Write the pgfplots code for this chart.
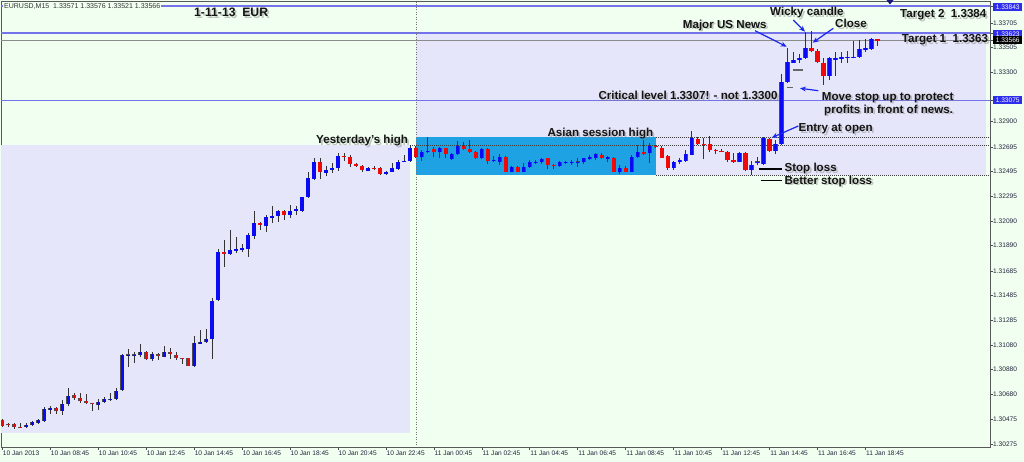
\documentclass[border=0pt]{standalone}
\usepackage{pgfplots}
\pgfplotsset{compat=1.18}
\usepackage{pgfplotstable}
\usepackage{fontspec}
\setmainfont{Liberation Sans}
\usetikzlibrary{arrows.meta}
\definecolor{hd}{RGB}{240,255,240}
\definecolor{lav}{RGB}{230,230,250}
\definecolor{asia}{RGB}{30,162,228}
\definecolor{lvl}{RGB}{115,115,235}
\definecolor{bull}{RGB}{10,10,245}
\definecolor{bear}{RGB}{240,10,10}
\definecolor{arr}{RGB}{25,40,235}
\definecolor{pbox}{RGB}{45,45,235}
\definecolor{ticktxt}{RGB}{35,35,60}
\definecolor{navytri}{RGB}{20,20,130}
\newcommand{\tickfont}{\fontsize{6.6}{7}\selectfont}
\newcommand{\annfont}{\fontsize{11.6}{13}\selectfont\bfseries}
\newcommand{\ann}[3]{%
 \node[anchor=west,inner sep=0pt,text height=8.3pt,text depth=0pt,font=\annfont,text=black!50,opacity=0.45,xshift=1.8pt,yshift=-1.8pt] at (#1pt,#2pt) {#3};%
 \node[anchor=west,inner sep=0pt,text height=8.3pt,text depth=0pt,font=\annfont,text=black!92] at (#1pt,#2pt) {#3};}
\pgfplotsset{nomk/.style={only marks, mark=none, mark size=0pt, mark options={draw=none, fill=none}}}
\pgfplotstableread{
i o h l c d
0 1.30469 1.30477 1.30412 1.30423 0
1 1.30436 1.30442 1.30410 1.30432 0
2 1.30434 1.30450 1.30401 1.30410 0
3 1.30410 1.30442 1.30401 1.30408 0
4 1.30410 1.30442 1.30408 1.30428 1
5 1.30426 1.30463 1.30420 1.30455 1
6 1.30450 1.30475 1.30436 1.30469 1
7 1.30461 1.30577 1.30455 1.30559 1
8 1.30562 1.30583 1.30518 1.30564 1
9 1.30564 1.30572 1.30518 1.30545 0
10 1.30545 1.30632 1.30512 1.30597 1
11 1.30597 1.30727 1.30583 1.30665 1
12 1.30673 1.30691 1.30632 1.30651 0
13 1.30651 1.30691 1.30605 1.30626 0
14 1.30626 1.30681 1.30599 1.30610 0
15 1.30610 1.30612 1.30545 1.30608 0
16 1.30594 1.30638 1.30550 1.30621 1
17 1.30618 1.30654 1.30605 1.30640 1
18 1.30638 1.30691 1.30626 1.30640 1
19 1.30638 1.30727 1.30632 1.30708 1
20 1.30713 1.31004 1.30708 1.30999 1
21 1.30999 1.31045 1.30903 1.31001 1
22 1.31001 1.31026 1.30931 1.31004 1
23 1.30999 1.31088 1.30985 1.31021 1
24 1.31023 1.31034 1.30958 1.30969 0
25 1.30969 1.31026 1.30947 1.31004 1
26 1.31001 1.31013 1.30958 1.30999 0
27 1.30985 1.31072 1.30980 1.31026 1
28 1.31023 1.31053 1.30969 1.31007 0
29 1.31004 1.31026 1.30958 1.30977 0
30 1.30974 1.30975 1.30925 1.30972 0
31 1.30972 1.30975 1.30909 1.30912 0
32 1.30909 1.31154 1.30903 1.31094 1
33 1.31094 1.31202 1.31092 1.31107 1
34 1.31105 1.31208 1.31094 1.31127 1
35 1.31127 1.31466 1.30964 1.31439 1
36 1.31445 1.31863 1.31440 1.31836 1
37 1.31836 1.31936 1.31714 1.31824 0
38 1.31824 1.32017 1.31814 1.31852 1
39 1.31852 1.31958 1.31828 1.31863 1
40 1.31863 1.31901 1.31838 1.31868 1
41 1.31863 1.31991 1.31795 1.31977 1
42 1.31971 1.32172 1.31942 1.32077 1
43 1.32077 1.32085 1.32017 1.32056 0
44 1.32053 1.32140 1.32004 1.32123 1
45 1.32118 1.32213 1.32072 1.32132 1
46 1.32132 1.32180 1.32083 1.32175 1
47 1.32175 1.32186 1.32099 1.32137 0
48 1.32137 1.32219 1.32113 1.32175 1
49 1.32172 1.32213 1.32137 1.32189 1
50 1.32172 1.32289 1.32167 1.32284 1
51 1.32284 1.32488 1.32280 1.32439 1
52 1.32433 1.32602 1.32425 1.32574 1
53 1.32574 1.32602 1.32436 1.32488 0
54 1.32480 1.32539 1.32458 1.32506 1
55 1.32504 1.32561 1.32480 1.32525 1
56 1.32523 1.32643 1.32501 1.32621 1
57 1.32621 1.32643 1.32582 1.32619 0
58 1.32610 1.32629 1.32533 1.32553 0
59 1.32553 1.32561 1.32529 1.32539 0
60 1.32537 1.32547 1.32493 1.32509 0
61 1.32501 1.32533 1.32501 1.32525 1
62 1.32525 1.32539 1.32506 1.32520 0
63 1.32525 1.32533 1.32466 1.32471 0
64 1.32474 1.32498 1.32466 1.32493 1
65 1.32490 1.32561 1.32488 1.32525 1
66 1.32515 1.32588 1.32506 1.32574 1
67 1.32574 1.32629 1.32572 1.32580 1
68 1.32580 1.32710 1.32569 1.32683 1
69 1.32688 1.32705 1.32608 1.32615 0
70 1.32610 1.32669 1.32582 1.32656 1
71 1.32656 1.32778 1.32643 1.32661 1
72 1.32678 1.32696 1.32615 1.32656 0
73 1.32656 1.32696 1.32602 1.32688 1
74 1.32683 1.32688 1.32607 1.32637 0
75 1.32596 1.32643 1.32588 1.32634 1
76 1.32634 1.32743 1.32629 1.32705 1
77 1.32705 1.32737 1.32669 1.32678 0
78 1.32678 1.32751 1.32643 1.32656 0
79 1.32656 1.32661 1.32596 1.32602 0
80 1.32602 1.32683 1.32596 1.32678 1
81 1.32678 1.32683 1.32553 1.32580 0
82 1.32580 1.32623 1.32569 1.32588 1
83 1.32574 1.32634 1.32547 1.32610 1
84 1.32615 1.32623 1.32488 1.32493 0
85 1.32493 1.32542 1.32488 1.32533 1
86 1.32533 1.32542 1.32488 1.32493 0
87 1.32493 1.32569 1.32488 1.32533 1
88 1.32533 1.32588 1.32520 1.32569 1
89 1.32569 1.32588 1.32553 1.32571 1
90 1.32569 1.32607 1.32553 1.32596 1
91 1.32602 1.32607 1.32515 1.32547 0
92 1.32547 1.32553 1.32515 1.32545 0
93 1.32542 1.32580 1.32533 1.32569 1
94 1.32569 1.32580 1.32553 1.32571 1
95 1.32571 1.32588 1.32547 1.32574 1
96 1.32574 1.32602 1.32533 1.32576 1
97 1.32574 1.32607 1.32553 1.32602 1
98 1.32602 1.32629 1.32588 1.32615 1
99 1.32607 1.32643 1.32588 1.32634 1
100 1.32626 1.32643 1.32596 1.32604 0
101 1.32604 1.32623 1.32574 1.32615 1
102 1.32607 1.32615 1.32488 1.32493 0
103 1.32488 1.32547 1.32471 1.32525 1
104 1.32525 1.32542 1.32488 1.32493 0
105 1.32493 1.32629 1.32488 1.32615 1
106 1.32610 1.32710 1.32602 1.32651 1
107 1.32651 1.32751 1.32629 1.32643 0
108 1.32643 1.32724 1.32561 1.32705 1
109 1.32705 1.32710 1.32688 1.32703 0
110 1.32688 1.32705 1.32602 1.32607 0
111 1.32623 1.32629 1.32506 1.32520 0
112 1.32520 1.32580 1.32506 1.32569 1
113 1.32569 1.32602 1.32561 1.32588 1
114 1.32580 1.32669 1.32574 1.32634 1
115 1.32634 1.32824 1.32629 1.32765 1
116 1.32759 1.32778 1.32710 1.32716 0
117 1.32716 1.32765 1.32596 1.32714 0
118 1.32716 1.32786 1.32656 1.32669 0
119 1.32669 1.32678 1.32634 1.32667 0
120 1.32663 1.32678 1.32651 1.32661 0
121 1.32656 1.32661 1.32574 1.32588 0
122 1.32588 1.32643 1.32561 1.32574 0
123 1.32574 1.32651 1.32569 1.32643 1
124 1.32643 1.32651 1.32498 1.32506 0
125 1.32506 1.32580 1.32466 1.32547 1
126 1.32574 1.32615 1.32547 1.32576 1
127 1.32553 1.32778 1.32547 1.32767 1
128 1.32759 1.32770 1.32653 1.32665 0
129 1.32665 1.32751 1.32637 1.32724 1
130 1.32716 1.33286 1.32710 1.33221 1
131 1.33221 1.33503 1.33216 1.33384 1
132 1.33384 1.33471 1.33376 1.33403 1
133 1.33400 1.33449 1.33376 1.33417 1
134 1.33417 1.33634 1.33412 1.33503 1
135 1.33503 1.33639 1.33470 1.33476 0
136 1.33476 1.33493 1.33379 1.33384 0
137 1.33376 1.33417 1.33199 1.33275 0
138 1.33275 1.33430 1.33240 1.33417 1
139 1.33411 1.33471 1.33275 1.33422 1
140 1.33422 1.33466 1.33376 1.33425 1
141 1.33425 1.33476 1.33376 1.33427 1
142 1.33427 1.33558 1.33422 1.33430 1
143 1.33430 1.33566 1.33417 1.33493 1
144 1.33484 1.33574 1.33471 1.33498 1
145 1.33493 1.33585 1.33484 1.33574 1
146 1.33571 1.33576 1.33521 1.33566 0
}\candles
\begin{document}
\begin{tikzpicture}
\path[use as bounding box, fill=hd] (0,0) rectangle (1024pt,462pt);
\begin{axis}[at={(1pt,15pt)}, anchor=south west, scale only axis,
 width=989pt, height=446pt,
 xmin=-0.2167, xmax=164.78, ymin=1.30249, ymax=1.33884,
 axis background/.style={fill=hd},
 axis line style={draw=black!65, line width=0.8pt},
 tick align=outside, major tick length=3pt,
 tick style={black!70, line width=0.6pt},
 xtick pos=bottom, ytick pos=right,
 xtick={0,8,...,144},
 xticklabels={10 Jan 2013,10 Jan 08:45,10 Jan 10:45,10 Jan 12:45,10 Jan 14:45,10 Jan 16:45,10 Jan 18:45,10 Jan 20:45,10 Jan 22:45,11 Jan 00:45,11 Jan 02:45,11 Jan 04:45,11 Jan 06:45,11 Jan 08:45,11 Jan 10:45,11 Jan 12:45,11 Jan 14:45,11 Jan 16:45,11 Jan 18:45},
 xticklabel style={anchor=north west, inner sep=0pt, font=\tickfont, text=ticktxt, xshift=0.5pt, yshift=-1pt},
 ytick={1.33843,1.33705,1.33623,1.33566,1.33505,1.33300,1.33075,1.32900,1.32695,1.32495,1.32295,1.32090,1.31890,1.31685,1.31485,1.31285,1.31080,1.30880,1.30680,1.30475,1.30275},
 yticklabels={{},1.33705,{},{},1.33505,1.33300,{},1.32900,1.32695,1.32495,1.32295,1.32090,1.31890,1.31685,1.31485,1.31285,1.31080,1.30880,1.30680,1.30475,1.30275},
 yticklabel style={anchor=west, inner sep=0pt, font=\tickfont, text=ticktxt},
]
% range boxes
\addplot[fill=lav, draw=none] coordinates {(-0.2167,1.30363) (68,1.30363) (68,1.32714) (-0.2167,1.32714)} -- cycle;
\addplot[fill=lav, draw=none] coordinates {(69.07,1.32466) (164.1,1.32466) (164.1,1.33623) (69.07,1.33623)} -- cycle;
\addplot[fill=asia, draw=none] coordinates {(69.07,1.32466) (109.07,1.32466) (109.07,1.32775) (69.07,1.32775)} -- cycle;
% level lines
\addplot[lvl, line width=1.1pt] coordinates {(-1,1.33843) (170,1.33843)};
\addplot[lvl, line width=1.1pt] coordinates {(-1,1.33623) (170,1.33623)};
\addplot[lvl, line width=1.1pt] coordinates {(-1,1.33075) (170,1.33075)};
\addplot[black!45, line width=1pt] coordinates {(-1,1.33566) (170,1.33566)};
\addplot[black!75, line width=0.8pt, dash pattern=on 1pt off 1pt] coordinates {(109.0,1.32775) (170,1.32775)};
\addplot[black!75, line width=0.8pt, dash pattern=on 1pt off 1pt] coordinates {(68,1.32705) (170,1.32705)};
\addplot[black!75, line width=0.8pt, dash pattern=on 1pt off 1pt] coordinates {(109.0,1.32466) (170,1.32466)};
\addplot[black!55, line width=0.8pt, dash pattern=on 1pt off 1.5pt] coordinates {(69.07,1.30) (69.07,1.34)};
% wicks
\addplot[nomk, error bars/.cd, y dir=both, y explicit, error mark=none,
 error bar style={draw=black!80, line width=0.8pt}]
 table[x=i, y expr={(\thisrow{h}+\thisrow{l})/2}, y error expr={(\thisrow{h}-\thisrow{l})/2}] {\candles};
% body outline (thin dark edge, and doji dash)
\addplot[nomk, error bars/.cd, y dir=both, y explicit, error mark=none,
 error bar style={draw=black!70, line width=4.2pt}]
 table[x=i, y expr={(\thisrow{o}+\thisrow{c})/2}, y error expr={max(abs(\thisrow{c}-\thisrow{o})/2,0.00003)}] {\candles};
% bull bodies
\addplot[nomk, error bars/.cd, y dir=both, y explicit, error mark=none,
 error bar style={draw=bull, line width=3.2pt}]
 table[x=i, y expr={(\thisrow{o}+\thisrow{c})/2}, y error expr={\thisrow{d}*abs(\thisrow{c}-\thisrow{o})/2}] {\candles};
% bear bodies
\addplot[nomk, error bars/.cd, y dir=both, y explicit, error mark=none,
 error bar style={draw=bear, line width=3.2pt}]
 table[x=i, y expr={(\thisrow{o}+\thisrow{c})/2}, y error expr={(1-\thisrow{d})*abs(\thisrow{c}-\thisrow{o})/2}] {\candles};
\end{axis}
% header
\node[anchor=west, inner sep=1pt, fill=hd, font=\fontsize{7}{8}\selectfont, text=black!80] at (3pt,455pt) {EURUSD,M15\ \ 1.33571 1.33576 1.33521 1.33566};
% price boxes on the scale
\node[anchor=west, fill=pbox, text=white, font=\tickfont, inner sep=0pt, minimum width=29pt, minimum height=8.5pt] at (993pt,455pt) {1.33843};
\node[anchor=west, fill=pbox, text=white, font=\tickfont, inner sep=0pt, minimum width=29pt, minimum height=8.5pt] at (993pt,362pt) {1.33075};
\node[anchor=west, fill=pbox, text=white, font=\tickfont, inner sep=0pt, minimum width=29pt, minimum height=8.5pt] at (993pt,428pt) {1.33623};
\node[anchor=west, fill=black, text=white, font=\tickfont, inner sep=0pt, minimum width=29pt, minimum height=8pt] at (993pt,421.5pt) {1.33566};
% triangle
\fill[navytri] (886.5pt,462pt) -- (893.5pt,462pt) -- (890pt,457.5pt) -- cycle;
% annotations
\node[anchor=west,inner sep=0pt,text height=8.6pt,text depth=0pt,font=\fontsize{12.2}{14}\selectfont\bfseries,text=black!50,opacity=0.45,xshift=1.8pt,yshift=-1.8pt] at (194pt,449.7pt) {1-11-13\ \ EUR};
\node[anchor=west,inner sep=0pt,text height=8.6pt,text depth=0pt,font=\fontsize{12.2}{14}\selectfont\bfseries,text=black!92] at (194pt,449.7pt) {1-11-13\ \ EUR};
\ann{316}{322.7}{Yesterday's high}
\ann{547.3}{329.3}{Asian session high}
\ann{682.7}{438}{Major US News}
\ann{770}{450.3}{Wicky candle}
\ann{835}{438.7}{Close}
\ann{900}{448.7}{Target 2\ \ 1.3384}
\ann{901.7}{423.7}{Target 1\ \ 1.3363}
\ann{598.3}{366.3}{Critical level 1.3307! - not 1.3300}
\ann{821.7}{366}{Move stop up to protect}
\ann{824}{353}{profits in front of news.}
\ann{798.3}{334.7}{Entry at open}
\ann{784.3}{294.3}{Stop loss}
\ann{784.3}{282}{Better stop loss}
% arrows
\draw[arr, line width=1.2pt, -{Stealth[length=6pt,width=5pt]}] (755pt,431.3pt) -- (786.7pt,415.3pt);
\draw[arr, line width=1.2pt, -{Stealth[length=6pt,width=5pt]}] (793.3pt,442pt) -- (805pt,430.3pt);
\draw[arr, line width=1.2pt, -{Stealth[length=6pt,width=5pt]}] (833.3pt,433.7pt) -- (812.7pt,419.3pt);
\draw[arr, line width=1.2pt, -{Stealth[length=6pt,width=5pt]}] (818.3pt,371.3pt) -- (800pt,373.7pt);
\draw[arr, line width=1.2pt, -{Stealth[length=6pt,width=5pt]}] (798.3pt,336pt) -- (771.7pt,324.3pt);
% stop marks
\draw[black, line width=1.2pt] (759.3pt,293pt) -- (782.3pt,293pt);
\draw[black, line width=1.2pt] (760.7pt,281.3pt) -- (782.3pt,281.3pt);
\draw[black!60, line width=1.6pt] (786.7pt,374.3pt) -- (793.3pt,374.3pt);
\draw[black!60, line width=1.6pt] (793.3pt,392pt) -- (803.3pt,392pt);
\end{tikzpicture}
\end{document}
